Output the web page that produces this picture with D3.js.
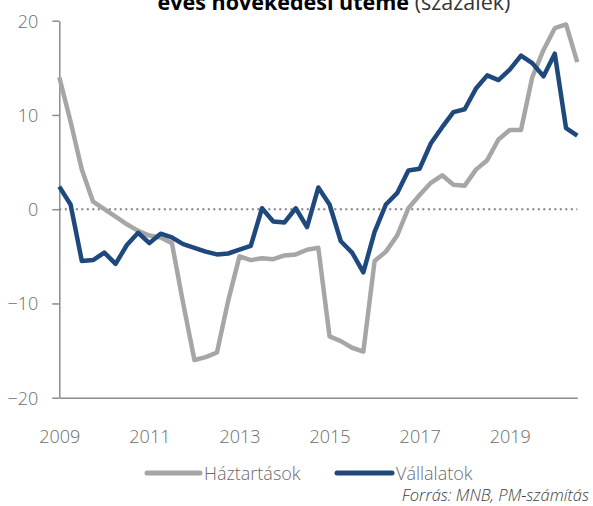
<!DOCTYPE html>
<html>
<head>
<meta charset="utf-8">
<script src="https://cdn.jsdelivr.net/npm/d3@7"></script>
<style>
  body { margin: 0; background: #fff; }
  svg { display: block; font-family: "Open Sans", "Noto Sans", sans-serif; }
  .axis text { fill: #6b6b6b; font-size: 18px; font-weight: 300; font-family: "Open Sans", "Noto Sans", sans-serif; }
  .axis path, .axis line { stroke: #8c8c8c; stroke-width: 1.5; }
</style>
</head>
<body>
<div id="chart"></div>
<script>
// quarterly data, 2009 Q1 .. 2020 Q3
const haztartasok = [14.0, 9.3, 4.2, 0.8, 0.0, -0.8, -1.6, -2.3, -2.8, -3.0, -3.6, -10.0,
  -16.0, -15.7, -15.2, -9.7, -5.0, -5.4, -5.2, -5.3, -4.9, -4.8, -4.3, -4.1,
  -13.5, -14.0, -14.7, -15.1, -5.5, -4.5, -2.8, 0.1, 1.5, 2.8, 3.6, 2.6,
  2.5, 4.2, 5.2, 7.4, 8.4, 8.4, 14.0, 16.9, 19.2, 19.6, 15.6];
const vallalatok = [2.4, 0.5, -5.5, -5.4, -4.6, -5.8, -3.8, -2.5, -3.6, -2.6, -3.0, -3.7,
  -4.1, -4.5, -4.8, -4.7, -4.3, -3.9, 0.1, -1.3, -1.4, 0.1, -1.9, 2.3,
  0.5, -3.4, -4.6, -6.7, -2.4, 0.5, 1.7, 4.1, 4.3, 7.0, 8.7, 10.3,
  10.6, 12.8, 14.2, 13.7, 14.8, 16.3, 15.5, 14.1, 16.5, 8.6, 7.8];
const yearLabels = ["2009", "2011", "2013", "2015", "2017", "2019"];
const yTicks = [-20, -10, 0, 10, 20];

const W = 593, H = 506;
const svg = d3.select("#chart").append("svg")
    .attr("width", W)
    .attr("height", H);

const x = d3.scaleLinear().domain([0, haztartasok.length - 1]).range([59.3, 577.3]);
const y = d3.scaleLinear().domain([-20, 20]).range([397.7, 20.7]);

// title (its first line lies above the picture in the original)
const title = svg.append("text")
    .attr("x", 334)
    .attr("y", 9.5)
    .attr("text-anchor", "middle")
    .style("font-size", "21.5px")
    .style("fill", "#000");
title.append("tspan").style("font-weight", "bold").text("éves növekedési üteme");
title.append("tspan").style("fill", "#333").text(" (százalék)");

// zero line
svg.append("line")
    .attr("x1", x(0))
    .attr("x2", x(haztartasok.length - 1))
    .attr("y1", y(0))
    .attr("y2", y(0))
    .attr("stroke", "#808080")
    .attr("stroke-width", 2)
    .attr("stroke-dasharray", "2,3.5");

// y axis
svg.append("g")
    .attr("class", "axis")
    .attr("font-family", null)
    .attr("transform", `translate(${x(0)},0)`)
    .call(d3.axisLeft(y).tickValues(yTicks).tickSize(7).tickSizeOuter(0).tickPadding(14))
    .selectAll("text").attr("dy", "0.36em");

// x axis
const xAxis = d3.axisBottom(x)
    .tickValues(yearLabels.map((d, i) => i * 8))
    .tickFormat((d, i) => yearLabels[i])
    .tickSize(0)
    .tickSizeOuter(0)
    .tickPadding(32.5);
svg.append("g")
    .attr("class", "axis")
    .attr("transform", `translate(0,${y(-20)})`)
    .call(xAxis);

const line = d3.line()
    .x((d, i) => x(i))
    .y(d => y(d));

svg.append("path")
    .datum(haztartasok)
    .attr("fill", "none")
    .attr("stroke", "#a6a6a6")
    .attr("stroke-width", 4.5)
    .attr("stroke-linejoin", "round")
    .attr("d", line);

svg.append("path")
    .datum(vallalatok)
    .attr("fill", "none")
    .attr("stroke", "#1f497d")
    .attr("stroke-width", 4.5)
    .attr("stroke-linejoin", "round")
    .attr("d", line);

// legend
const legend = [
  {name: "Háztartások", color: "#a6a6a6", x1: 147, x2: 200},
  {name: "Vállalatok", color: "#1f497d", x1: 337, x2: 392}
];
legend.forEach(l => {
  svg.append("line")
      .attr("x1", l.x1).attr("x2", l.x2)
      .attr("y1", 473).attr("y2", 473)
      .attr("stroke", l.color)
      .attr("stroke-width", 5)
      .attr("stroke-linecap", "round");
  svg.append("text")
      .attr("x", l.x2 + 4)
      .attr("y", 480)
      .style("font-size", "18px")
      .style("font-weight", 300)
      .style("fill", "#6b6b6b")
      .text(l.name);
});

// source
svg.append("text")
    .attr("x", 589)
    .attr("y", 501)
    .attr("text-anchor", "end")
    .style("font-size", "16.5px")
    .style("font-style", "italic")
    .style("font-weight", 300)
    .style("fill", "#404040")
    .text("Forrás: MNB, PM-számítás");
</script>
</body>
</html>
